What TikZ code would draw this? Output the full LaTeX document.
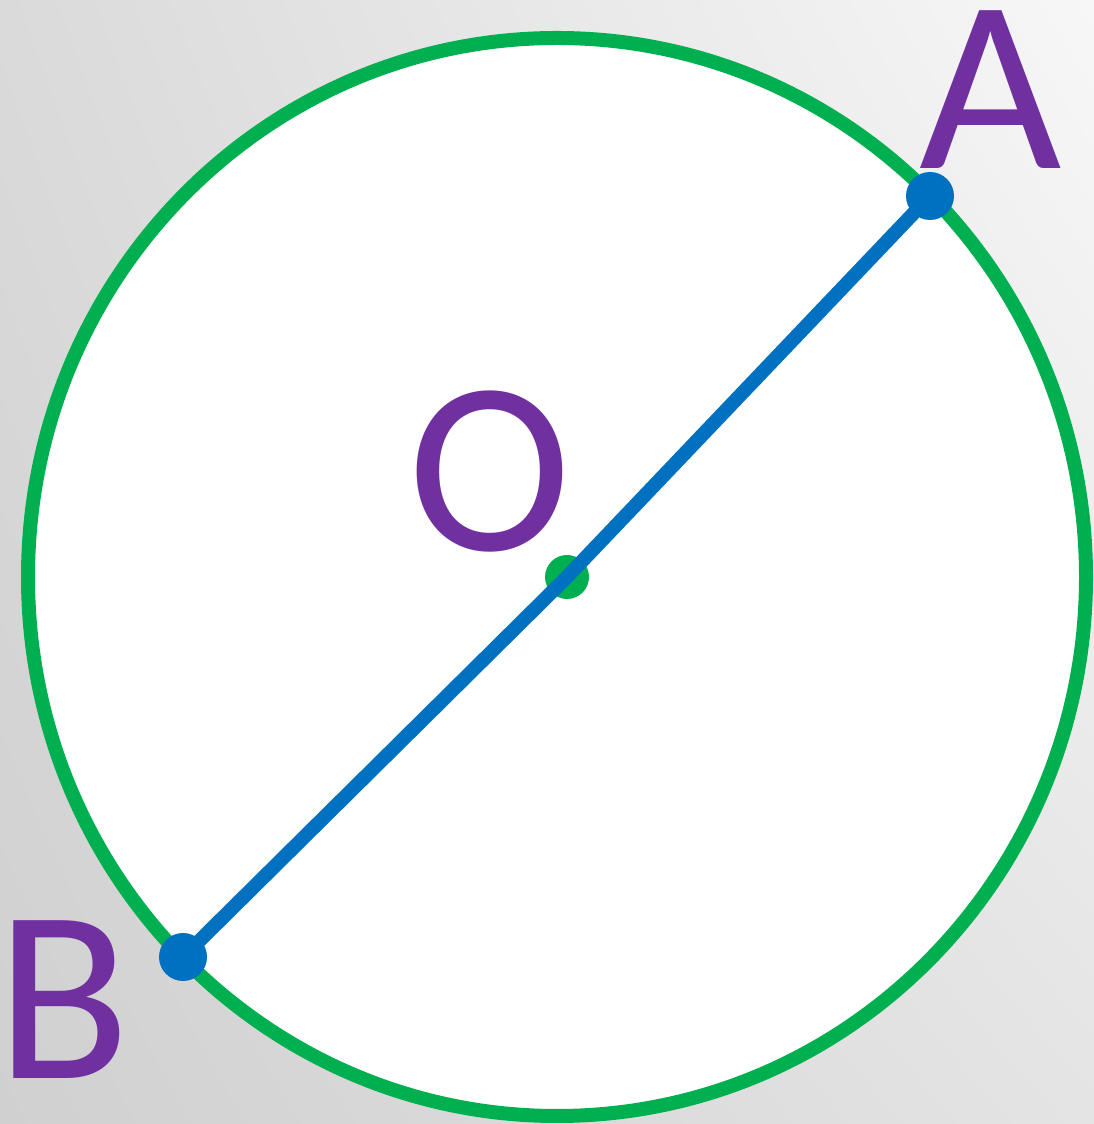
\documentclass[tikz,border=0pt]{standalone}
\usepackage{fontspec}
\setmainfont{Carlito}
\usetikzlibrary{shadings}
\definecolor{cgreen}{HTML}{00B050}
\definecolor{cblue}{HTML}{0070C0}
\definecolor{cpurple}{HTML}{7030A0}
\definecolor{bgll}{HTML}{D0D0D0}
\definecolor{bgul}{HTML}{DADADA}
\definecolor{bgur}{HTML}{F7F7F7}
\definecolor{bglr}{HTML}{E4E4E4}
\begin{document}
\begin{tikzpicture}[x=1pt,y=1pt,
  lbl/.style={text=cpurple,inner sep=0pt,anchor=center,font=\fontsize{246}{246}\selectfont},
  bdot/.style={circle,fill=cblue,minimum size=48pt,inner sep=0pt},
  gdot/.style={circle,fill=cgreen,minimum size=44pt,inner sep=0pt}]
\useasboundingbox (0,0) rectangle (1094,1124);
\shade[lower left=bgll,upper left=bgul,upper right=bgur,lower right=bglr]
  (0,0) rectangle (1094,1124);
\draw[cgreen,line width=14pt,fill=white] (557,547) ellipse [x radius=529,y radius=539];
\node[gdot] (O) at (567,547) {};
\coordinate (Ac) at (930,928);
\coordinate (Bc) at (183,167);
\draw[cblue,line width=14pt] (Ac) -- (O.center) -- (Bc);
\node[bdot] (A) at (Ac) {};
\node[bdot] (B) at (Bc) {};
\node[lbl] (lA) at (991,1034) {A};
\node[lbl] (lO) at (490,652) {O};
\node[lbl] (lB) at (63,124) {B};
\end{tikzpicture}
\end{document}
